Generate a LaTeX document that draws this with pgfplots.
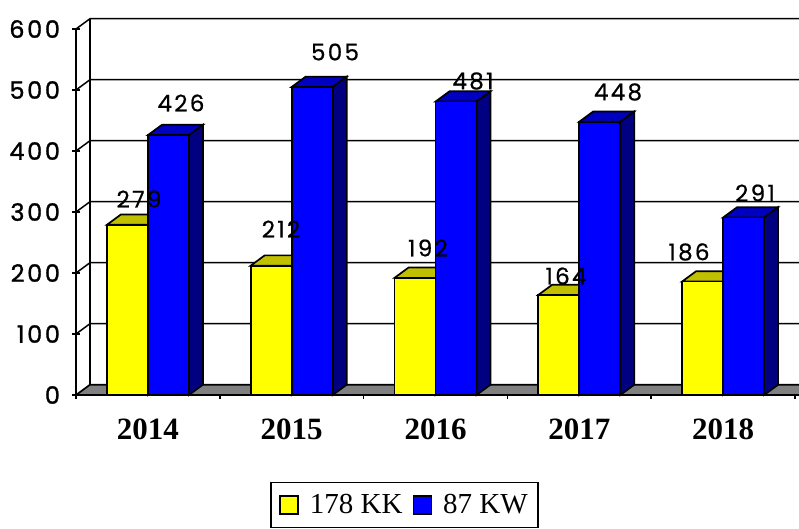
\documentclass[border=0pt]{standalone}
\usepackage{pgfplots}
\pgfplotsset{compat=1.18}
\usepackage{fontspec}
\setmainfont{Liberation Serif}
\newfontfamily\gothic[LetterSpace=11,FakeBold=1.2]{Poppins}
\newfontfamily\gothicl[LetterSpace=10,FakeBold=0.6]{Poppins}
\definecolor{cyel}{RGB}{255,255,0}
\definecolor{ytop}{RGB}{192,192,0}
\definecolor{cblu}{RGB}{0,0,255}
\definecolor{btop}{RGB}{0,0,192}
\definecolor{bside}{RGB}{0,0,128}
\definecolor{floorc}{RGB}{128,128,128}
\newcommand\dx{0.0974}
\newcommand\dy{16.9}
\newcommand\gridl[1]{%
  \pgfmathsetmacro\yb{#1+\dy}%
  \edef\tmp{\noexpand\addplot[black,line width=1.5pt,forget plot] coordinates {(0,#1)(\dx,\yb)(5.2,\yb)};}\tmp}
% x0, x1, value, top colour, side colour
\newcommand\faces[5]{%
  \pgfmathsetmacro\xa{#1+\dx}\pgfmathsetmacro\xb{#2+\dx}\pgfmathsetmacro\yt{#3+\dy}%
  \edef\tmp{\noexpand\addplot[draw=black,fill=#4,line width=1.7pt,forget plot] coordinates {(#1,#3)(\xa,\yt)(\xb,\yt)(#2,#3)} -- cycle;%
  \noexpand\addplot[draw=black,fill=#5,line width=1.7pt,forget plot] coordinates {(#2,0)(\xb,\dy)(\xb,\yt)(#2,#3)} -- cycle;}\tmp}
\begin{document}
\begin{tikzpicture}[x=1pt,y=1pt]
\path[use as bounding box] (0,0) rectangle (799,528);
\clip (0,0) rectangle (799,528);
\begin{axis}[
  at={(76pt,133pt)},anchor=south west,
  scale only axis,width=719pt,height=366pt,
  xmin=0,xmax=5,ymin=0,ymax=600,clip=false,
  axis lines=left,axis line style={-,line width=1.7pt,black},
  xtick={0.5,1.5,2.5,3.5,4.5},xticklabels={2014,2015,2016,2017,2018},
  minor xtick={0,1,2,3,4,5},
  ytick={0,100,...,600},
  tick style={black,line width=1.5pt},
  major tick length=7pt,minor tick length=7pt,
  major x tick style={draw=none},
  xticklabel style={font=\fontsize{31}{31}\selectfont\bfseries,yshift=-17pt},
  yticklabel style={font=\gothic\fontsize{24}{24}\selectfont,xshift=-9pt},
  /pgf/number format/assume math mode=true,
  legend columns=2,
  legend style={at={(0.4569,-0.3005)},anchor=center,draw=black,line width=1.7pt,
    font=\fontsize{29}{29}\selectfont,inner xsep=8pt,inner ysep=10pt,
    /tikz/every odd column/.append style={column sep=9pt},
    /tikz/every even column/.append style={column sep=8pt}},
]
% floor and back wall
\addplot[draw=black,fill=floorc,line width=1.7pt,forget plot] coordinates {(0,0)(0.0974,16.9)(5.2,16.9)(5.1,0)} -- cycle;
\addplot[black,line width=1.7pt,forget plot] coordinates {(0.0974,16.9)(0.0974,616.9)};
\gridl{100}\gridl{200}\gridl{300}\gridl{400}\gridl{500}\gridl{600}
% 178 KK
\faces{0.2148}{0.5}{279}{ytop}{ytop}
\faces{1.2148}{1.5}{212}{ytop}{ytop}
\faces{2.2148}{2.5}{192}{ytop}{ytop}
\faces{3.2148}{3.5}{164}{ytop}{ytop}
\faces{4.2148}{4.5}{186}{ytop}{ytop}
\addplot[ybar,bar width=41pt,bar shift=-20.5pt,draw=black,fill=cyel,line width=1.7pt,
  legend image code/.code={\draw[black,fill=cyel,line width=1.7pt] (0pt,-9pt) rectangle (18pt,9pt);}]
  coordinates {(0.5,279)(1.5,212)(2.5,192)(3.5,164)(4.5,186)};
\addlegendentry{178 KK}
% 87 KW
\faces{0.5}{0.7852}{426}{btop}{bside}
\faces{1.5}{1.7852}{505}{btop}{bside}
\faces{2.5}{2.7852}{481}{btop}{bside}
\faces{3.5}{3.7852}{448}{btop}{bside}
\faces{4.5}{4.7852}{291}{btop}{bside}
\addplot[ybar,bar width=41pt,bar shift=20.5pt,draw=black,fill=cblu,line width=1.7pt,
  legend image code/.code={\draw[black,fill=cblu,line width=1.7pt] (0pt,-9pt) rectangle (18pt,9pt);}]
  coordinates {(0.5,426)(1.5,505)(2.5,481)(3.5,448)(4.5,291)};
\addlegendentry{87 KW}
\end{axis}
\tikzset{lab/.style={font=\gothicl\fontsize{23}{23}\selectfont,inner sep=0pt,anchor=center}}
\node[lab] at (139,329) {279};
\node[lab] at (181,425) {426};
\node[lab] at (281,299) {212};
\node[lab] at (335,476) {505};
\node[lab] at (428,280) {192};
\node[lab] at (473,447) {481};
\node[lab] at (566,252) {164};
\node[lab] at (618,436) {448};
\node[lab] at (689,276) {186};
\node[lab] at (755,335) {291};
\end{tikzpicture}
\end{document}
